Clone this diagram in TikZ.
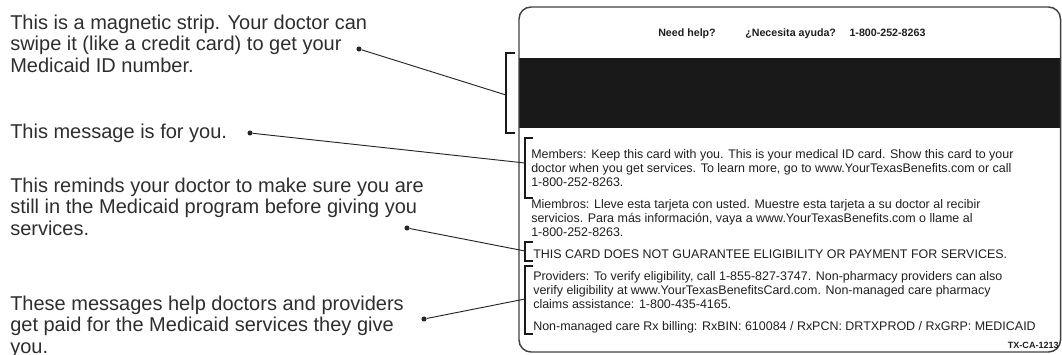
\documentclass[tikz,border=0pt]{standalone}
\usepackage{fontspec}
\setmainfont{Liberation Sans}
\usetikzlibrary{positioning}

\tikzset{
  note/.style={anchor=base west, align=left, inner sep=0pt, text=black!82,
    font=\fontsize{15pt}{16.1pt}\selectfont},
  cardtext/.style={anchor=base west, align=left, inner sep=0pt, text=black!88,
    font=\fontsize{9.35pt}{10.5pt}\selectfont},
  helptext/.style={anchor=base west, inner sep=0pt, text=black!88,
    font=\bfseries\fontsize{8pt}{9pt}\selectfont},
  codetext/.style={inner sep=0pt, text=black!88,
    font=\bfseries\fontsize{6.8pt}{7pt}\selectfont},
  dotmark/.style={circle, fill=black!85, inner sep=0pt, minimum size=3.8pt},
  leader/.style={draw=black!85, line width=0.7pt},
  brackline/.style={draw=black!90, line width=1.4pt},
}

\begin{document}
\begin{tikzpicture}[x=0.75pt, y=-0.75pt]
  \useasboundingbox (0,0) rectangle (1062,354);

  % Card and magnetic strip
  \fill[black!90] (519,58) rectangle (1060,128);
  \draw[black!75, line width=1.1pt, rounded corners=9pt] (519,7) rectangle (1060.5,352);

  % Define nodes (base = last line)
  \node[note] (stripnote) at (10,72) {This is a magnetic strip. Your doctor can\\swipe it (like a credit card) to get your\\Medicaid ID number.};
  \node[note] (younote) at (10,138) {This message is for you.};
  \node[note] (elignote) at (10,235) {This reminds your doctor to make sure you are\\still in the Medicaid program before giving you\\services.};
  \node[note] (paynote) at (10,353) {These messages help doctors and providers\\get paid for the Medicaid services they give\\you.};

  \node[dotmark] (stripdot) at (359,49) {};
  \node[dotmark] (youdot) at (250,133) {};
  \node[dotmark] (eligdot) at (407,228) {};
  \node[dotmark] (paydot) at (424,319) {};

  \node[helptext] (help) at (658,36) {Need help?};
  \node[helptext, right=21.75pt of help.base east, anchor=base west] (ayuda) {¿Necesita ayuda?};
  \node[helptext, right=9.75pt of ayuda.base east, anchor=base west] (phone) {1-800-252-8263};

  \node[cardtext] (members) at (531,186) {Members: Keep this card with you. This is your medical ID card. Show this card to your\\doctor when you get services. To learn more, go to www.YourTexasBenefits.com or call\\1-800-252-8263.};
  \node[cardtext] (miembros) at (531,236) {Miembros: Lleve esta tarjeta con usted. Muestre esta tarjeta a su doctor al recibir\\servicios. Para más información, vaya a www.YourTexasBenefits.com o llame al\\1-800-252-8263.};
  \node[cardtext] (guarantee) at (533,258) {THIS CARD DOES NOT GUARANTEE ELIGIBILITY OR PAYMENT FOR SERVICES.};
  \node[cardtext] (providers) at (533,308) {Providers: To verify eligibility, call 1-855-827-3747. Non-pharmacy providers can also\\verify eligibility at www.YourTexasBenefitsCard.com. Non-managed care pharmacy\\claims assistance: 1-800-435-4165.};
  \node[cardtext] (billing) at (533,330) {Non-managed care Rx billing: RxBIN: 610084 / RxPCN: DRTXPROD / RxGRP: MEDICAID};
  \node[codetext, anchor=base east] (code) at (1059,348) {TX-CA-1213};

  % Brackets
  \draw[brackline] (515,53) -- (506,53) -- (506,133) -- (515,133);
  \draw[brackline] (533,138) -- (525,138) -- (525,198) -- (533,198);
  \draw[brackline] (533,242) -- (525,242) -- (525,261) -- (533,261);
  \draw[brackline] (533,266) -- (525,266) -- (525,334) -- (533,334);
  \coordinate (stripmid) at (506,95);
  \coordinate (youmid) at (525,163);
  \coordinate (eligmid) at (525,251);
  \coordinate (paymid) at (525,299);

  % Connect the nodes
  \draw[leader] (stripdot) -- (stripmid);
  \draw[leader] (youdot) -- (youmid);
  \draw[leader] (eligdot) -- (eligmid);
  \draw[leader] (paydot) -- (paymid);

\end{tikzpicture}
\end{document}
